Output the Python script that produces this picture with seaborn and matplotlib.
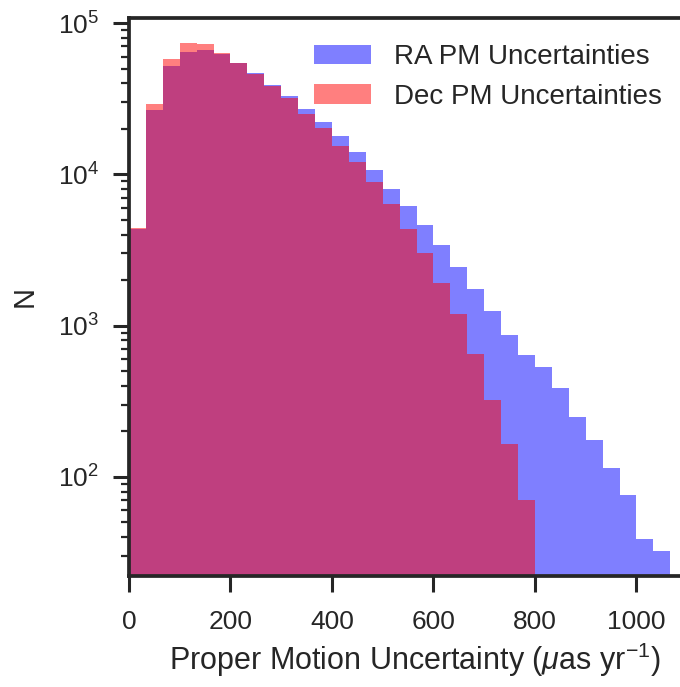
import numpy as np
import pandas as pd
import matplotlib
matplotlib.use("Agg")
import matplotlib.pyplot as plt
import seaborn as sns

# ---- data ----
bin_edges = list(np.linspace(0, 3200 / 3, 33))     # 32 bins of 33.3 uas/yr
ra_counts = [4370, 26500, 52000, 64600, 66300, 62100, 54700, 46700, 38700, 32900,
             26900, 22300, 17800, 14000, 10700, 8030, 6150, 4600, 3410, 2430,
             1740, 1240, 863, 642, 530, 385, 248, 175, 114, 76, 39, 32.5]
dec_counts = [4440, 29000, 57800, 73400, 72300, 63300, 54200, 46200, 38300, 31700,
              25100, 20300, 15450, 12100, 8940, 6390, 4330, 3000, 1910, 1190,
              649, 323, 164, 70, 0, 0, 0, 0, 0, 0, 0, 0]
series_labels = ["RA PM Uncertainties", "Dec PM Uncertainties"]
x_label = r"Proper Motion Uncertainty ($\mu$as yr$^{-1}$)"
y_label = "N"

centers = [(a + b) / 2 for a, b in zip(bin_edges[:-1], bin_edges[1:])]
df_ra = pd.DataFrame({"unc": centers, "n": ra_counts})
df_dec = pd.DataFrame({"unc": centers, "n": dec_counts})

sns.set_theme(style="ticks")
plt.rcParams["font.family"] = ["Liberation Sans", "DejaVu Sans"]
plt.rcParams["mathtext.fontset"] = "custom"
plt.rcParams["mathtext.rm"] = "Liberation Sans"
plt.rcParams["mathtext.it"] = "Liberation Sans:italic"
plt.rcParams["mathtext.bf"] = "Liberation Sans:bold"

W, H = 680, 687
fig = plt.figure(figsize=(W / 100, H / 100), dpi=100)
left_px, right_px, top_px, bot_px = 129, 700, 18.3, 575.5
ax = fig.add_axes([left_px / W, 1 - bot_px / H, (right_px - left_px) / W, (bot_px - top_px) / H])

sns.histplot(data=df_ra, x="unc", weights="n", bins=bin_edges, element="step",
             fill=True, color="blue", alpha=0.5, linewidth=0, label=series_labels[0], ax=ax)
sns.histplot(data=df_dec, x="unc", weights="n", bins=bin_edges, element="step",
             fill=True, color="red", alpha=0.5, linewidth=0, label=series_labels[1], ax=ax)

ax.set_yscale("log")
ax.set_xlim(0, (right_px - left_px) / 0.5075)
ax.set_ylim(10 ** (5 - (bot_px - 23) / 151.3), 10 ** (5 + (23 - top_px) / 151.3))
ax.set_xticks([0, 200, 400, 600, 800, 1000])

for s in ax.spines.values():
    s.set_linewidth(2.7)
    s.set_color("#262626")
ax.tick_params(axis="both", which="major", length=11.5, width=2.2, labelsize=19,
               colors="#262626")
ax.tick_params(axis="x", which="major", pad=13)
ax.tick_params(axis="y", which="major", pad=10)
ax.tick_params(axis="y", which="minor", length=6, width=1.6, colors="#262626")

ax.set_xlabel(x_label, fontsize=22, color="#262626", labelpad=5)
ax.set_ylabel(y_label, fontsize=21, color="#262626", labelpad=14)

leg = ax.legend(loc="upper right", bbox_to_anchor=(1.01, 0.972),
                bbox_transform=fig.transFigure, frameon=False, fontsize=20,
                handlelength=2.05, handleheight=0.72, handletextpad=0.83,
                labelspacing=0.49)
for t in leg.get_texts():
    t.set_color("#262626")

fig.savefig("out.png", dpi=100)
